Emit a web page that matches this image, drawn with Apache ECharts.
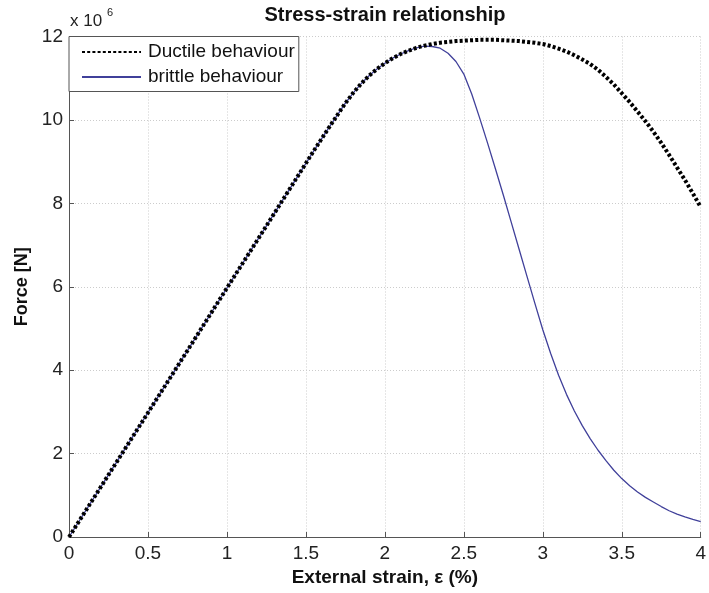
<!DOCTYPE html>
<html>
<head>
<meta charset="utf-8">
<style>
  html, body { margin: 0; padding: 0; background: #fff; }
  #chart { width: 709px; height: 593px; }
</style>
<script src="https://cdn.jsdelivr.net/npm/echarts@6/dist/echarts.min.js"></script>
</head>
<body>
<div id="chart"></div>
<script>
// External strain in percent
const strain = [0, 0.25, 0.5, 0.75, 1.0, 1.25, 1.5, 1.55, 1.6, 1.65, 1.7, 1.75, 1.8, 1.85, 1.9, 1.95,
  2.0, 2.05, 2.1, 2.15, 2.2, 2.25, 2.3, 2.35, 2.4, 2.45, 2.5, 2.55, 2.6, 2.65, 2.7, 2.75, 2.8, 2.85, 2.9, 2.95,
  3.0, 3.05, 3.1, 3.15, 3.2, 3.25, 3.3, 3.35, 3.4, 3.45, 3.5, 3.55, 3.6, 3.65, 3.7, 3.75, 3.8, 3.85, 3.9, 3.95, 4.0];

// Force in units of 1e6 N
const ductileForce = [0, 1.49, 2.98, 4.47, 5.97, 7.46, 8.96, 9.26, 9.55, 9.84, 10.12, 10.4, 10.65, 10.87, 11.06, 11.22,
  11.36, 11.48, 11.58, 11.66, 11.73, 11.78, 11.82, 11.85, 11.87, 11.89, 11.9, 11.91, 11.92, 11.92, 11.92, 11.91, 11.9, 11.89, 11.87, 11.85,
  11.82, 11.77, 11.71, 11.64, 11.55, 11.45, 11.34, 11.2, 11.03, 10.85, 10.64, 10.43, 10.2, 9.97, 9.72, 9.45, 9.16, 8.86, 8.56, 8.24, 7.91];

const brittleForce = [0, 1.49, 2.98, 4.47, 5.97, 7.46, 8.96, 9.26, 9.55, 9.84, 10.12, 10.4, 10.65, 10.87, 11.06, 11.22,
  11.36, 11.48, 11.58, 11.66, 11.73, 11.77, 11.76, 11.72, 11.6, 11.4, 11.1, 10.62, 10.05, 9.45, 8.83, 8.2, 7.55, 6.9, 6.25, 5.6,
  4.97, 4.4, 3.88, 3.42, 3.02, 2.67, 2.36, 2.08, 1.83, 1.6, 1.4, 1.23, 1.08, 0.95, 0.84, 0.73, 0.63, 0.55, 0.48, 0.42, 0.37];

const xTicks = { min: 0, max: 4, interval: 0.5 };
const yTicks = { min: 0, max: 12, interval: 2 };

const FONT = "'Liberation Sans', Arial, Helvetica, sans-serif";

const chart = echarts.init(document.getElementById('chart'), null, { renderer: 'canvas' });

const pairs = (ys) => strain.map((x, i) => [x, ys[i]]);

chart.setOption({
  animation: false,
  backgroundColor: '#ffffff',
  title: {
    text: 'Stress-strain relationship',
    left: 385,
    textAlign: 'center',
    top: 5,
    padding: 0,
    textStyle: { fontFamily: FONT, fontSize: 20, fontWeight: 'bold', color: '#111' }
  },
  grid: { left: 69, right: 8, top: 36.5, bottom: 56, containLabel: false },
  legend: {
    data: ['Ductile behaviour', 'brittle behaviour'],
    orient: 'vertical',
    left: 69,
    top: 36.5,
    padding: [6, 4, 5, 12],
    itemGap: 6,
    itemWidth: 59,
    itemHeight: 14,
    itemStyle: { opacity: 0 },
    backgroundColor: '#ffffff',
    borderColor: '#555',
    borderWidth: 1,
    borderRadius: 0,
    textStyle: { fontFamily: FONT, fontSize: 19, color: '#111', padding: [0, 0, 0, 2] }
  },
  xAxis: {
    type: 'value',
    min: xTicks.min, max: xTicks.max, interval: xTicks.interval,
    name: 'External strain, ε (%)',
    nameLocation: 'middle',
    nameGap: 31,
    nameTextStyle: { fontFamily: FONT, fontSize: 19, fontWeight: 'bold', color: '#111' },
    axisLine: { show: true, lineStyle: { color: '#555', width: 1 } },
    axisTick: { show: true, inside: true, length: 5, lineStyle: { color: '#555' } },
    axisLabel: { fontFamily: FONT, fontSize: 19, color: '#222', margin: 7, showMaxLabel: true, showMinLabel: true },
    splitLine: { show: true, lineStyle: { color: '#cccccc', type: [1, 2], width: 1 } }
  },
  yAxis: {
    type: 'value',
    min: yTicks.min, max: yTicks.max, interval: yTicks.interval,
    name: 'Force [N]',
    nameLocation: 'middle',
    nameRotate: 90,
    nameGap: 29,
    nameTextStyle: { fontFamily: FONT, fontSize: 18, fontWeight: 'bold', color: '#111' },
    axisLine: { show: true, lineStyle: { color: '#555', width: 1 } },
    axisTick: { show: true, inside: true, length: 5, lineStyle: { color: '#555' } },
    axisLabel: { fontFamily: FONT, fontSize: 19, color: '#222', margin: 6 },
    splitLine: { show: true, lineStyle: { color: '#cccccc', type: [1, 2], width: 1 } }
  },
  graphic: [
    {
      type: 'text', left: 70, top: 13,
      style: { text: 'x 10', font: '17px ' + FONT, fill: '#222' }
    },
    {
      type: 'text', left: 107, top: 7,
      style: { text: '6', font: '11px ' + FONT, fill: '#222' }
    }
  ],
  series: [
    {
      name: 'brittle behaviour',
      type: 'line',
      data: pairs(brittleForce),
      showSymbol: false,
      symbol: 'none',
      z: 2,
      lineStyle: { color: '#40409a', width: 1.3 },
      itemStyle: { color: '#40409a' }
    },
    {
      name: 'Ductile behaviour',
      type: 'line',
      data: pairs(ductileForce),
      showSymbol: false,
      symbol: 'none',
      z: 3,
      lineStyle: { color: '#000', width: 4, type: [3, 2.2], cap: 'butt' },
      itemStyle: { color: '#000' }
    }
  ]
});
</script>
</body>
</html>
